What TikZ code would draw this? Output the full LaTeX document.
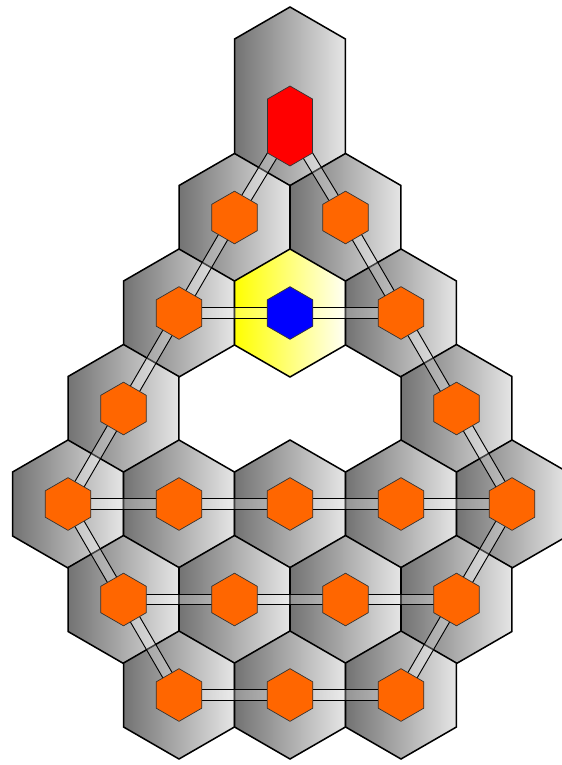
\documentclass[tikz,border=0pt]{standalone}
\usepackage{tikz}
\usetikzlibrary{shapes.geometric,calc}
\definecolor{cellorange}{RGB}{255,102,0}

% double-walled pipe between two centres
\newcommand{\pipe}[2]{%
  \draw[pipeline] ($(#1)!0.16cm!90:(#2)$) -- ($(#2)!0.16cm!-90:(#1)$)
    -- ($(#2)!0.16cm!90:(#1)$) -- ($(#1)!0.16cm!-90:(#2)$) -- cycle;}

\begin{document}
\begin{tikzpicture}[x=0.03cm, y=-0.03cm,
  shell/.style={draw=black, line width=1.3pt, left color=black!55, right color=black!10},
  hexcell/.style={shell, regular polygon, regular polygon sides=6, shape border rotate=30,
    minimum size=3.84cm, inner sep=0pt},
  cell/.style={regular polygon, regular polygon sides=6, shape border rotate=30,
    minimum size=1.58cm, inner sep=0pt, draw=black!80, line width=0.6pt, fill=cellorange},
  pipeline/.style={draw=black, line width=0.8pt, fill=white, fill opacity=0.25}
]
\useasboundingbox (0,0) rectangle (561,765);

% stretched top shell
\draw[shell] (234.6,39) -- (290,7) -- (345.4,39) -- (345.4,154) -- (290,186) -- (234.6,154) -- cycle;
\coordinate (Hred) at (290,126);

% shells, row by row
\node[hexcell] (Ht1) at (234.5,217.5) {};
\node[hexcell] (Ht2) at (345.5,217.5) {};
\node[hexcell] (Hu1) at (179,313) {};
\node[hexcell, left color=yellow, right color=yellow!4] (Hu2) at (290,313) {};
\node[hexcell] (Hu3) at (401,313) {};
\node[hexcell] (Hv1) at (123.5,408.5) {};
\node[hexcell] (Hv2) at (456.5,408.5) {};
\node[hexcell] (Hw1) at (68,504) {};
\node[hexcell] (Hw2) at (179,504) {};
\node[hexcell] (Hw3) at (290,504) {};
\node[hexcell] (Hw4) at (401,504) {};
\node[hexcell] (Hw5) at (512,504) {};
\node[hexcell] (Hx1) at (123.5,599.5) {};
\node[hexcell] (Hx2) at (234.5,599.5) {};
\node[hexcell] (Hx3) at (345.5,599.5) {};
\node[hexcell] (Hx4) at (456.5,599.5) {};
\node[hexcell] (Hy1) at (179,695) {};
\node[hexcell] (Hy2) at (290,695) {};
\node[hexcell] (Hy3) at (401,695) {};

% pipes
\pipe{Hred}{Ht1} \pipe{Hred}{Ht2}
\pipe{Ht1}{Hu1} \pipe{Ht2}{Hu3}
\pipe{Hu1}{Hu2} \pipe{Hu2}{Hu3}
\pipe{Hu1}{Hv1} \pipe{Hv1}{Hw1}
\pipe{Hu3}{Hv2} \pipe{Hv2}{Hw5}
\pipe{Hw1}{Hw2} \pipe{Hw2}{Hw3} \pipe{Hw3}{Hw4} \pipe{Hw4}{Hw5}
\pipe{Hw1}{Hx1} \pipe{Hx1}{Hy1}
\pipe{Hw5}{Hx4} \pipe{Hx4}{Hy3}
\pipe{Hx1}{Hx2} \pipe{Hx2}{Hx3} \pipe{Hx3}{Hx4}
\pipe{Hy1}{Hy2} \pipe{Hy2}{Hy3}

% inner cells
\draw[draw=black!80, line width=0.6pt, fill=red] (267.5,99) -- (290,86) -- (312.5,99) -- (312.5,153) -- (290,166) -- (267.5,153) -- cycle;
\node[cell] (t1) at (Ht1) {};
\node[cell] (t2) at (Ht2) {};
\node[cell] (u1) at (Hu1) {};
\node[cell, fill=blue] (u2) at (Hu2) {};
\node[cell] (u3) at (Hu3) {};
\node[cell] (v1) at (Hv1) {};
\node[cell] (v2) at (Hv2) {};
\node[cell] (w1) at (Hw1) {};
\node[cell] (w2) at (Hw2) {};
\node[cell] (w3) at (Hw3) {};
\node[cell] (w4) at (Hw4) {};
\node[cell] (w5) at (Hw5) {};
\node[cell] (x1) at (Hx1) {};
\node[cell] (x2) at (Hx2) {};
\node[cell] (x3) at (Hx3) {};
\node[cell] (x4) at (Hx4) {};
\node[cell] (y1) at (Hy1) {};
\node[cell] (y2) at (Hy2) {};
\node[cell] (y3) at (Hy3) {};
\end{tikzpicture}
\end{document}
